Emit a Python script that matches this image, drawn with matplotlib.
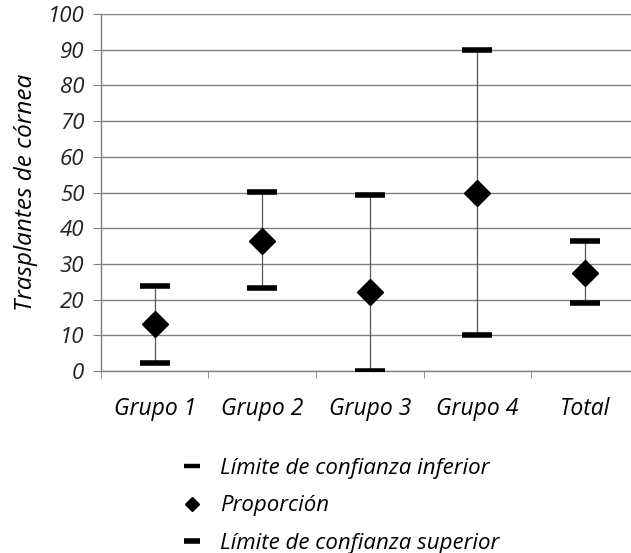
import matplotlib
matplotlib.use("Agg")
import matplotlib.pyplot as plt
from matplotlib.lines import Line2D

# ---------------- data ----------------
categories = ["Grupo 1", "Grupo 2", "Grupo 3", "Grupo 4", "Total"]
lower_limit = [2.2, 23.3, 0.0, 10.1, 19.0]
proportion = [13.2, 36.5, 22.1, 49.8, 27.4]
upper_limit = [23.9, 50.1, 49.3, 89.9, 36.3]
yticks = list(range(0, 101, 10))

label_lower = "Límite de confianza inferior"
label_prop = "Proporción"
label_upper = "Límite de confianza superior"

plt.rcParams["font.family"] = ["Open Sans", "DejaVu Sans"]
plt.rcParams["font.style"] = "italic"

fig = plt.figure(figsize=(6.31, 5.53), dpi=100)
ax = fig.add_axes([0.160, 0.329, 0.852, 0.6456])

x = list(range(len(categories)))

# vertical connectors between limits
for xi, lo, hi in zip(x, lower_limit, upper_limit):
    ax.plot([xi, xi], [lo, hi], color="#555555", lw=0.9, zorder=2)

ax.plot(x, lower_limit, ls="none", marker="_", ms=21, mew=4, color="black", zorder=3)
ax.plot(x, upper_limit, ls="none", marker="_", ms=21, mew=4, color="black", zorder=3)
ax.plot(x, proportion, ls="none", marker="D", ms=13.5, color="black", zorder=4)

ax.set_xlim(-0.5, len(categories) - 0.5)
ax.set_ylim(0, 100)
ax.set_yticks(yticks)
ax.set_xticks(x)
ax.set_xticklabels(categories, fontsize=16.5)
ax.set_xticks([i - 0.5 for i in range(len(categories) + 1)], minor=True)
ax.tick_params(axis="x", which="major", length=0, pad=19)
ax.tick_params(axis="x", which="minor", length=5, color="#808080")
ax.tick_params(axis="y", length=6, color="#808080", labelsize=16, pad=6)
for lbl in ax.get_yticklabels():
    lbl.set_color("#222222")

ax.grid(axis="y", color="#808080", lw=1)
ax.set_axisbelow(True)
for side in ["top", "right"]:
    ax.spines[side].set_visible(False)
for side in ["left", "bottom"]:
    ax.spines[side].set_color("#808080")
    ax.spines[side].set_linewidth(1)

ax.set_ylabel("Trasplantes de córnea", fontsize=17.5, labelpad=7)

handles = [
    Line2D([], [], ls="none", marker="_", ms=12, mew=3.2, color="black"),
    Line2D([], [], ls="none", marker="D", ms=7.5, color="black"),
    Line2D([], [], ls="none", marker="_", ms=12, mew=4, color="black"),
]
fig.legend(handles, [label_lower, label_prop, label_upper],
           loc="upper left", bbox_to_anchor=(0.255, 0.208), frameon=False,
           fontsize=16, handlelength=1.0, handletextpad=0.75, labelspacing=0.74)

fig.savefig("out.png", dpi=100)
